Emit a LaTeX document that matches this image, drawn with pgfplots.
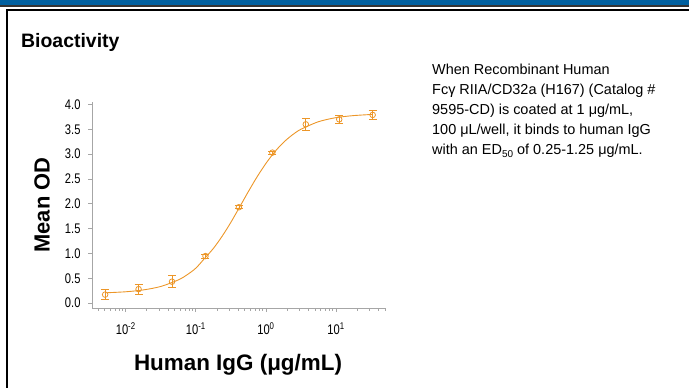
\documentclass[border=0pt]{standalone}
\usepackage{fontspec}
\setmainfont{Liberation Sans}
\newfontfamily\condensed{Liberation Sans}[FakeStretch=0.8]
\usepackage{pgfplots}
\pgfplotsset{compat=1.18}
\definecolor{od}{RGB}{236,150,40}
\definecolor{hdrblue}{RGB}{0,96,160}
\begin{document}
\begin{tikzpicture}[x=1bp,y=1bp]
\path[use as bounding box] (0,0) rectangle (689,388);
\fill[hdrblue] (0,383) rectangle (689,388);
\fill[black!80] (0,381) rectangle (689,383);
\fill[black] (6,377) rectangle (689,379);
\fill[black] (6,0) rectangle (8,379);
\node[anchor=base west,inner sep=0,font=\bfseries\fontsize{19.5}{21}\selectfont] at (21,341) {Bioactivity};
\begin{scope}[every node/.style={anchor=base west,inner sep=0,font=\fontsize{14.5}{16}\selectfont}]
\node at (432,314) {When Recombinant Human};
\node at (432,294) {Fcγ RIIA/CD32a (H167) (Catalog \#};
\node at (432,274) {9595-CD) is coated at 1 μg/mL,};
\node at (432,254) {100 μL/well, it binds to human IgG};
\node at (432,234) {with an ED\raisebox{-3bp}{\fontsize{10}{12}\selectfont 50} of 0.25-1.25 μg/mL.};
\end{scope}
\node[rotate=90,font=\bfseries\fontsize{22}{24}\selectfont] at (42,183) {Mean OD};
\node[font=\bfseries\fontsize{22.5}{24}\selectfont] at (238,23) {Human IgG (μg/mL)};
\begin{semilogxaxis}[
  at={(92bp,80bp)}, anchor=south west, scale only axis,
  width=293bp, height=206bp,
  xmin=0.0033, xmax=50, ymin=-0.1, ymax=4.05,
  axis x line=bottom, axis y line=left,
  axis line style={draw=gray!70, line width=0.8pt, -},
  tick style={draw=gray!70, line width=0.7pt},
  tick align=outside,
  major tick length=4bp, minor tick length=2.5bp,
  xtick={0.01,0.1,1,10},
  xticklabels={10\textsuperscript{-2},10\textsuperscript{-1},10\textsuperscript{0},10\textsuperscript{1}},
  minor xtick={0.004,0.005,0.006,0.007,0.008,0.009,0.02,0.03,0.04,0.05,0.06,0.07,0.08,0.09,0.2,0.3,0.4,0.5,0.6,0.7,0.8,0.9,2,3,4,5,6,7,8,9,20,30,40,50},
  ytick={0,0.5,1,1.5,2,2.5,3,3.5,4},
  /pgf/number format/fixed, /pgf/number format/precision=1,
  /pgf/number format/zerofill, /pgf/number format/assume math mode=true,
  ticklabel style={font=\condensed\fontsize{14}{16}\selectfont},
  xticklabel style={yshift=-7bp},
  yticklabel style={xshift=-4bp},
  clip=false,
]
\addplot[od, line width=0.9pt, smooth, no marks] coordinates {
(0.00508,0.206) (0.01,0.227) (0.01778,0.264) (0.03162,0.334) (0.05623,0.466)
(0.07499,0.569) (0.1,0.703) (0.1334,0.90) (0.1778,1.10) (0.2371,1.345)
(0.3162,1.626) (0.4217,1.935) (0.5623,2.247) (0.7499,2.545) (1,2.813)
(1.334,3.045) (1.778,3.235) (2.371,3.385) (3.162,3.501) (5.623,3.653)
(10,3.735) (17.78,3.776) (33.3,3.80)
};
\addplot[od, only marks, mark=o, mark size=2.8bp, mark options={line width=0.8pt},
  error bars/.cd, y dir=both, y explicit,
  error bar style={od, line width=0.8pt},
  error mark options={od, mark size=4bp, rotate=90, line width=0.8pt}]
  table[x=x, y=y, y error=e] {
x y e
0.00508 0.17 0.10
0.01524 0.28 0.10
0.04572 0.43 0.12
0.1372 0.946 0.04
0.4115 1.93 0.03
1.235 3.03 0.03
3.704 3.60 0.12
11.11 3.70 0.09
33.33 3.79 0.09
};
\end{semilogxaxis}
\end{tikzpicture}
\end{document}
